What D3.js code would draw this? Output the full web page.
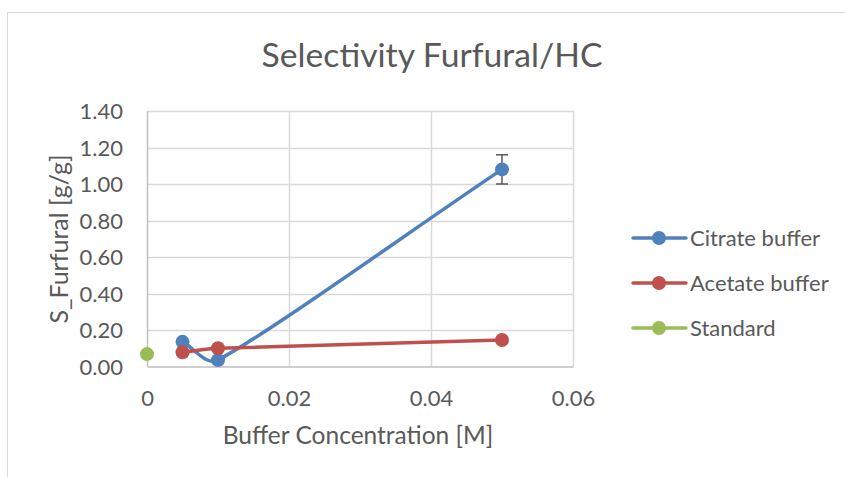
<!DOCTYPE html>
<html><head><meta charset="utf-8">
<script src="https://cdn.jsdelivr.net/npm/d3@7"></script>
<style>html,body{margin:0;padding:0;background:#fff;}svg{display:block;}</style>
</head><body>
<svg id="c" width="845" height="477"></svg>
<script>
const title = "Selectivity Furfural/HC";
const xTitle = "Buffer Concentration [M]";
const yTitle = "S_Furfural [g/g]";
const xTicks = [0, 0.02, 0.04, 0.06];
const xTickLabels = ["0", "0.02", "0.04", "0.06"];
const yTicks = [0, 0.2, 0.4, 0.6, 0.8, 1.0, 1.2, 1.4];
const yTickLabels = ["0.00", "0.20", "0.40", "0.60", "0.80", "1.00", "1.20", "1.40"];
const seriesNames = ["Citrate buffer", "Acetate buffer", "Standard"];
const seriesColors = ["#4F81BD", "#C0504D", "#9BBB59"];
const citrateX = [0.005, 0.01, 0.05];
const citrateY = [0.135, 0.035, 1.08];
const citrateErr = [0, 0, 0.08];
const acetateX = [0.005, 0.01, 0.05];
const acetateY = [0.078, 0.10, 0.145];
const standardX = [0];
const standardY = [0.068];

const svg = d3.select("#c");
const font = "Lato, 'Open Sans', sans-serif";
const txt = "#595959";

svg.append("rect").attr("x", 7.5).attr("y", 12.5).attr("width", 900).attr("height", 500)
  .attr("fill", "#fff").attr("stroke", "#d9d9d9").attr("stroke-width", 1);

const x = d3.scaleLinear().domain([0, 0.06]).range([147, 573]);
const y = d3.scaleLinear().domain([0, 1.4]).range([366.5, 111]);

svg.append("g").selectAll("line").data(yTicks.slice(1)).join("line")
  .attr("x1", x(0)).attr("x2", x(0.06)).attr("y1", d => Math.round(y(d)) + 0.5).attr("y2", d => Math.round(y(d)) + 0.5)
  .attr("stroke", "#d9d9d9").attr("stroke-width", 1.5);
svg.append("g").selectAll("line").data(xTicks.slice(1)).join("line")
  .attr("y1", y(0)).attr("y2", y(1.4)).attr("x1", d => Math.round(x(d)) + 0.5).attr("x2", d => Math.round(x(d)) + 0.5)
  .attr("stroke", "#d9d9d9").attr("stroke-width", 1.5);

const xAxis = d3.axisBottom(x).tickValues(xTicks).tickSize(0).tickFormat((d, i) => xTickLabels[i]);
const gx = svg.append("g").attr("transform", `translate(0,${y(0)})`).call(xAxis);
gx.select(".domain").attr("stroke", "#bfbfbf").attr("stroke-width", 1.5);
gx.selectAll("text").attr("font-family", font).attr("font-size", 22).attr("fill", txt).attr("y", 39).attr("dy", 0);

const yAxis = d3.axisLeft(y).tickValues(yTicks).tickSize(0).tickFormat((d, i) => yTickLabels[i]);
const gy = svg.append("g").attr("transform", `translate(${x(0)},0)`).call(yAxis);
gy.select(".domain").attr("stroke", "#bfbfbf").attr("stroke-width", 1.5);
gy.selectAll("text").attr("font-family", font).attr("font-size", 22).attr("fill", txt).attr("x", -24).attr("dy", "0.36em");

svg.append("text").attr("x", 432).attr("y", 67).attr("text-anchor", "middle")
  .attr("font-family", font).attr("font-size", 33.7).attr("fill", txt).text(title);
svg.append("text").attr("x", 358).attr("y", 444).attr("text-anchor", "middle")
  .attr("font-family", font).attr("font-size", 24.5).attr("fill", txt).text(xTitle);
svg.append("text").attr("transform", "translate(68,239) rotate(-90)").attr("text-anchor", "middle")
  .attr("font-family", font).attr("font-size", 25).attr("fill", txt).text(yTitle);

// Excel-like smoothed line built from scaled pixel points
function smoothPath(p) {
  const path = d3.path();
  path.moveTo(p[0][0], p[0][1]);
  const n = p.length;
  const tan = p.map((pt, i) => {
    const a = p[Math.max(0, i - 1)], b = p[Math.min(n - 1, i + 1)];
    const dx = b[0] - a[0], dy = b[1] - a[1];
    const L = Math.hypot(dx, dy) || 1;
    return [dx / L, dy / L, L / 6];
  });
  for (let i = 0; i < n - 1; i++) {
    const a = p[i], b = p[i + 1];
    const seg = Math.hypot(b[0] - a[0], b[1] - a[1]);
    const da = Math.min(seg / 3, tan[i][2] * (i === 0 ? 2 : 1));
    const db = Math.min(seg / 3, tan[i + 1][2] * (i + 1 === n - 1 ? 2 : 1));
    path.bezierCurveTo(a[0] + tan[i][0] * da, a[1] + tan[i][1] * da,
      b[0] - tan[i + 1][0] * db, b[1] - tan[i + 1][1] * db, b[0], b[1]);
  }
  return path.toString();
}

const series = [
  {xs: citrateX, ys: citrateY, err: citrateErr},
  {xs: acetateX, ys: acetateY, err: null},
  {xs: standardX, ys: standardY, err: null}
];

series.forEach((s, i) => {
  const pts = s.xs.map((v, j) => [v, s.ys[j]]);
  const px = pts.map(d => [x(d[0]), y(d[1])]);
  const g = svg.append("g");
  if (px.length > 1) {
    g.append("path").attr("d", smoothPath(px)).attr("fill", "none")
      .attr("stroke", seriesColors[i]).attr("stroke-width", 3.5).attr("stroke-linecap", "round");
  }
  if (s.err) {
    pts.forEach((p, j) => {
      const e = s.err[j];
      if (!e) return;
      const cx = x(p[0]);
      g.append("line").attr("x1", cx).attr("x2", cx).attr("y1", y(p[1] + e)).attr("y2", y(p[1] - e))
        .attr("stroke", "#595959").attr("stroke-width", 1.5);
      [p[1] + e, p[1] - e].forEach(v => {
        g.append("line").attr("x1", cx - 6).attr("x2", cx + 6).attr("y1", y(v)).attr("y2", y(v))
          .attr("stroke", "#595959").attr("stroke-width", 1.5);
      });
    });
  }
  g.selectAll("circle").data(pts).join("circle")
    .attr("cx", d => x(d[0])).attr("cy", d => y(d[1])).attr("r", 7)
    .attr("fill", seriesColors[i]);
});

const legY = [238, 283, 328];
seriesNames.forEach((n, i) => {
  const g = svg.append("g").attr("transform", `translate(0,${legY[i]})`);
  g.append("line").attr("x1", 633).attr("x2", 686).attr("y1", 0).attr("y2", 0)
    .attr("stroke", seriesColors[i]).attr("stroke-width", 3.5).attr("stroke-linecap", "round");
  g.append("circle").attr("cx", 659).attr("cy", 0).attr("r", 7).attr("fill", seriesColors[i]);
  g.append("text").attr("x", 690).attr("y", 0).attr("dy", "0.36em")
    .attr("font-family", font).attr("font-size", 22).attr("fill", txt).text(n);
});
</script>
</body></html>
